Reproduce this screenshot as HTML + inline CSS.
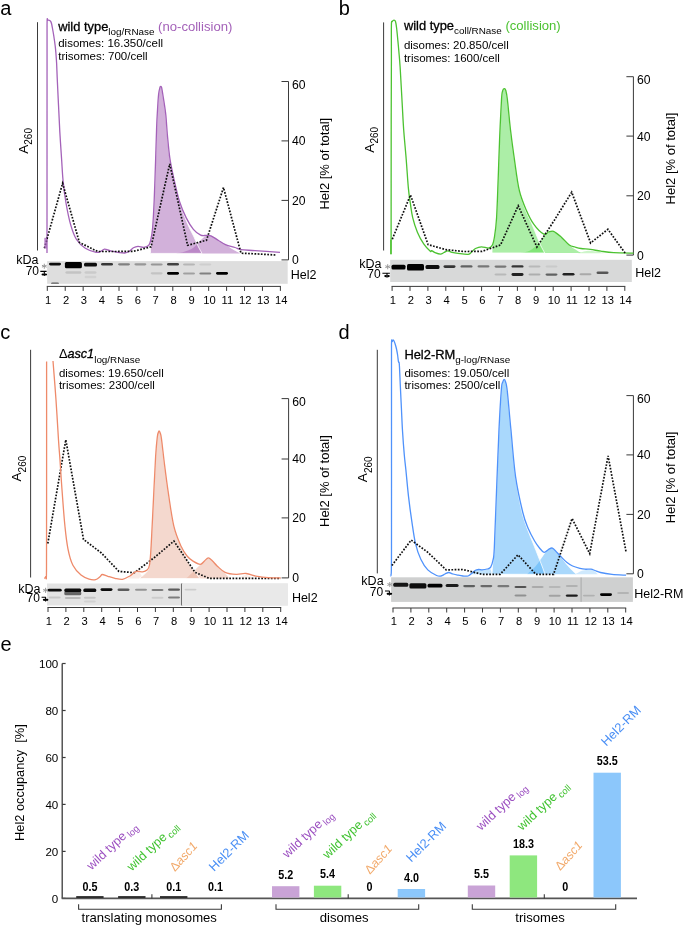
<!DOCTYPE html>
<html><head><meta charset="utf-8"><style>
html,body{margin:0;padding:0;background:#fff;overflow:hidden;}
svg{display:block;font-family:"Liberation Sans", sans-serif;}
</style></head><body>
<svg width="685" height="926" viewBox="0 0 685 926">
<defs><filter id="bl" filterUnits="userSpaceOnUse" x="0" y="0" width="685" height="926"><feGaussianBlur stdDeviation="0.6"/></filter><filter id="soft" filterUnits="userSpaceOnUse" x="0" y="0" width="685" height="926"><feGaussianBlur stdDeviation="0.4"/></filter></defs>
<rect width="685" height="926" fill="#fff"/>
<g filter="url(#soft)">
<text x="0.3" y="14.6" font-size="20" fill="#000">a</text>
<line x1="37.5" y1="22.2" x2="37.5" y2="250.5" stroke="#3a3a3a" stroke-width="1"/>
<text transform="translate(27.6,153.8) rotate(-90)" font-size="13.6" fill="#000">A<tspan font-size="10" dy="4.3">260</tspan></text>
<line x1="288.5" y1="81.5" x2="288.5" y2="259.9" stroke="#3a3a3a" stroke-width="1"/>
<line x1="281.5" y1="81.5" x2="288.5" y2="81.5" stroke="#3a3a3a" stroke-width="1"/>
<text x="292.1" y="88.7" font-size="12.2" fill="#000">60</text>
<line x1="281.5" y1="140.9" x2="288.5" y2="140.9" stroke="#3a3a3a" stroke-width="1"/>
<text x="292.1" y="145.3" font-size="12.2" fill="#000">40</text>
<line x1="281.5" y1="200.4" x2="288.5" y2="200.4" stroke="#3a3a3a" stroke-width="1"/>
<text x="292.1" y="204.8" font-size="12.2" fill="#000">20</text>
<line x1="281.5" y1="259.9" x2="288.5" y2="259.9" stroke="#3a3a3a" stroke-width="1"/>
<text x="292.1" y="264.3" font-size="12.2" fill="#000">0</text>
<text transform="translate(328.8,209.6) rotate(-90)" font-size="13" fill="#000">Hel2 [% of total]</text>
<path d="M176.00,253.40 C177.50,253.08 182.17,252.40 185.00,251.50 C187.83,250.60 190.50,249.75 193.00,248.00 C195.50,246.25 197.92,242.95 200.00,241.00 C202.08,239.05 203.68,237.17 205.50,236.30 C207.32,235.43 208.78,235.15 210.90,235.80 C213.02,236.45 215.77,238.73 218.20,240.20 C220.63,241.67 223.20,243.13 225.50,244.60 C227.80,246.07 229.58,247.53 232.00,249.00 C234.42,250.47 238.67,252.67 240.00,253.40 Z" fill="#a561b5" fill-opacity="0.50" stroke="none" stroke-width="0.00"/>
<path d="M150.50,253.40 C150.55,251.17 150.45,244.23 150.80,240.00 C151.15,235.77 152.03,234.67 152.60,228.00 C153.17,221.33 153.70,211.33 154.20,200.00 C154.70,188.67 155.20,172.00 155.60,160.00 C156.00,148.00 156.28,136.33 156.60,128.00 C156.92,119.67 157.17,115.60 157.50,110.00 C157.83,104.40 158.18,98.20 158.60,94.40 C159.02,90.60 159.63,88.52 160.00,87.20 C160.37,85.88 160.53,86.45 160.80,86.50 C161.07,86.55 161.27,86.18 161.60,87.50 C161.93,88.82 162.12,90.00 162.80,94.40 C163.48,98.80 164.93,107.13 165.70,113.90 C166.47,120.67 166.68,127.45 167.40,135.00 C168.12,142.55 168.83,151.53 170.00,159.20 C171.17,166.87 172.90,174.20 174.40,181.00 C175.90,187.80 177.40,194.33 179.00,200.00 C180.60,205.67 182.33,210.50 184.00,215.00 C185.67,219.50 187.33,223.33 189.00,227.00 C190.67,230.67 192.50,233.83 194.00,237.00 C195.50,240.17 196.67,243.27 198.00,246.00 C199.33,248.73 201.33,252.17 202.00,253.40 Z" fill="#a561b5" fill-opacity="0.50" stroke="#fff" stroke-width="0.80"/>
<path d="M47.00,253.00 C47.01,220.83 47.03,98.50 47.05,60.00 C47.07,21.50 46.98,28.62 47.10,22.00 C47.23,15.38 47.43,20.57 47.80,20.30 C48.17,20.03 48.85,20.25 49.30,20.40 C49.75,20.55 50.13,20.68 50.50,21.20 C50.87,21.72 51.17,22.28 51.50,23.50 C51.83,24.72 52.12,26.42 52.50,28.50 C52.88,30.58 53.35,33.08 53.80,36.00 C54.25,38.92 54.87,43.33 55.20,46.00 C55.53,48.67 55.57,49.17 55.80,52.00 C56.03,54.83 56.35,58.33 56.60,63.00 C56.85,67.67 56.98,73.00 57.30,80.00 C57.62,87.00 58.08,96.40 58.50,105.00 C58.92,113.60 59.28,122.57 59.80,131.60 C60.32,140.63 61.05,150.97 61.60,159.20 C62.15,167.43 62.37,173.70 63.10,181.00 C63.83,188.30 64.73,195.68 66.00,203.00 C67.27,210.32 68.95,218.82 70.70,224.90 C72.45,230.98 74.07,235.62 76.50,239.50 C78.93,243.38 82.02,246.07 85.30,248.20 C88.58,250.33 93.67,251.75 96.20,252.30 C98.73,252.85 99.12,252.02 100.50,251.50 C101.88,250.98 103.25,249.45 104.50,249.20 C105.75,248.95 106.83,249.67 108.00,250.00 C109.17,250.33 109.83,250.82 111.50,251.20 C113.17,251.58 115.80,252.00 118.00,252.30 C120.20,252.60 122.87,253.13 124.70,253.00 C126.53,252.87 127.55,252.37 129.00,251.50 C130.45,250.63 131.90,248.67 133.40,247.80 C134.90,246.93 136.27,246.38 138.00,246.30 C139.73,246.22 142.03,247.43 143.80,247.30 C145.57,247.17 147.43,246.72 148.60,245.50 C149.77,244.28 150.13,242.92 150.80,240.00 C151.47,237.08 152.03,234.67 152.60,228.00 C153.17,221.33 153.70,211.33 154.20,200.00 C154.70,188.67 155.20,172.00 155.60,160.00 C156.00,148.00 156.28,136.33 156.60,128.00 C156.92,119.67 157.17,115.60 157.50,110.00 C157.83,104.40 158.18,98.20 158.60,94.40 C159.02,90.60 159.63,88.52 160.00,87.20 C160.37,85.88 160.53,86.45 160.80,86.50 C161.07,86.55 161.27,86.18 161.60,87.50 C161.93,88.82 162.12,90.00 162.80,94.40 C163.48,98.80 164.93,107.13 165.70,113.90 C166.47,120.67 166.68,127.45 167.40,135.00 C168.12,142.55 168.83,151.53 170.00,159.20 C171.17,166.87 172.82,173.95 174.40,181.00 C175.98,188.05 177.55,195.40 179.50,201.50 C181.45,207.60 183.78,212.97 186.10,217.60 C188.42,222.23 190.97,226.38 193.40,229.30 C195.83,232.22 198.52,234.08 200.70,235.10 C202.88,236.12 204.80,235.28 206.50,235.40 C208.20,235.52 208.95,235.00 210.90,235.80 C212.85,236.60 215.77,238.73 218.20,240.20 C220.63,241.67 222.70,243.38 225.50,244.60 C228.30,245.82 232.42,246.67 235.00,247.50 C237.58,248.33 237.67,249.08 241.00,249.60 C244.33,250.12 248.50,250.15 255.00,250.60 C261.50,251.05 275.83,252.02 280.00,252.30" fill="none" stroke="#a462b9" stroke-width="1.3" stroke-linejoin="round"/>
<path d="M44.40,248.20 L62.60,183.30 L79.40,242.40 L97.70,251.50 L115.60,251.50 L133.50,251.30 L151.10,246.80 L169.70,163.90 L187.60,245.30 L206.50,240.20 L223.50,187.50 L241.00,253.20 L258.50,254.00 L275.50,255.00" fill="none" stroke="#111" stroke-width="1.7" stroke-dasharray="1.7,1.5"/>
<rect x="47.1" y="261.1" width="240.6" height="22.7" fill="#dedede"/>
<g filter="url(#bl)">
<rect x="49.0" y="262.8" width="12.0" height="2.6" rx="1.5" fill="#000" fill-opacity="0.95"/>
<rect x="64.9" y="262.0" width="17.0" height="6.3" rx="1.5" fill="#000" fill-opacity="1.00"/>
<rect x="84.0" y="262.8" width="13.0" height="3.6" rx="1.5" fill="#000" fill-opacity="0.95"/>
<rect x="101.0" y="263.1" width="12.0" height="2.4" rx="1.5" fill="#000" fill-opacity="0.75"/>
<rect x="118.0" y="263.2" width="12.0" height="2.2" rx="1.5" fill="#000" fill-opacity="0.42"/>
<rect x="134.4" y="263.2" width="12.0" height="2.2" rx="1.5" fill="#000" fill-opacity="0.32"/>
<rect x="150.7" y="263.4" width="12.0" height="2.2" rx="1.5" fill="#000" fill-opacity="0.32"/>
<rect x="167.0" y="263.1" width="12.0" height="2.4" rx="1.5" fill="#000" fill-opacity="0.70"/>
<rect x="183.0" y="263.5" width="12.0" height="2.0" rx="1.5" fill="#000" fill-opacity="0.18"/>
<rect x="199.3" y="263.5" width="12.0" height="2.0" rx="1.5" fill="#000" fill-opacity="0.07"/>
<rect x="51.0" y="282.6" width="8.0" height="1.2" rx="1.5" fill="#000" fill-opacity="0.60"/>
<rect x="65.4" y="271.2" width="16.0" height="2.6" rx="1.5" fill="#000" fill-opacity="0.12"/>
<rect x="84.5" y="271.2" width="12.0" height="2.5" rx="1.5" fill="#000" fill-opacity="0.09"/>
<rect x="84.5" y="275.8" width="12.0" height="2.5" rx="1.5" fill="#000" fill-opacity="0.06"/>
<rect x="150.7" y="272.2" width="12.0" height="2.2" rx="1.5" fill="#000" fill-opacity="0.12"/>
<rect x="167.0" y="271.9" width="12.0" height="2.8" rx="1.5" fill="#000" fill-opacity="1.00"/>
<rect x="183.0" y="272.5" width="12.0" height="2.0" rx="1.5" fill="#000" fill-opacity="0.28"/>
<rect x="199.3" y="272.4" width="12.0" height="2.2" rx="1.5" fill="#000" fill-opacity="0.42"/>
<rect x="216.0" y="271.9" width="12.0" height="2.8" rx="1.5" fill="#000" fill-opacity="1.00"/>
</g>
<text x="38.5" y="264.4" font-size="12.5" text-anchor="end" fill="#000">kDa</text>
<text x="39.0" y="275.4" font-size="12" text-anchor="end" fill="#000">70</text>
<g stroke="#999" stroke-width="1" stroke-linecap="round"><path d="M44.3,264.1 v4.3 M42.3,265.4 l4,1.6 M46.3,265.4 l-4,1.6"/></g>
<path d="M40.3,271.4 H46.6 M44.3,271.4 V276.1" stroke="#000" stroke-width="1.1"/>
<ellipse cx="42.9" cy="274.5" rx="1.4" ry="1.1" fill="#000"/><ellipse cx="45.7" cy="274.5" rx="1.4" ry="1.1" fill="#000"/>
<text x="290.8" y="278.7" font-size="12.5" fill="#000">Hel2</text>
<line x1="46.8" y1="286.4" x2="280.9" y2="286.4" stroke="#3a3a3a" stroke-width="1"/>
<line x1="47.30" y1="286.4" x2="47.30" y2="290.9" stroke="#3a3a3a" stroke-width="1"/>
<text x="48.10" y="304.1" font-size="11.2" text-anchor="middle" fill="#000">1</text>
<line x1="65.23" y1="286.4" x2="65.23" y2="290.9" stroke="#3a3a3a" stroke-width="1"/>
<text x="66.03" y="304.1" font-size="11.2" text-anchor="middle" fill="#000">2</text>
<line x1="83.16" y1="286.4" x2="83.16" y2="290.9" stroke="#3a3a3a" stroke-width="1"/>
<text x="83.96" y="304.1" font-size="11.2" text-anchor="middle" fill="#000">3</text>
<line x1="101.09" y1="286.4" x2="101.09" y2="290.9" stroke="#3a3a3a" stroke-width="1"/>
<text x="101.89" y="304.1" font-size="11.2" text-anchor="middle" fill="#000">4</text>
<line x1="119.02" y1="286.4" x2="119.02" y2="290.9" stroke="#3a3a3a" stroke-width="1"/>
<text x="119.82" y="304.1" font-size="11.2" text-anchor="middle" fill="#000">5</text>
<line x1="136.95" y1="286.4" x2="136.95" y2="290.9" stroke="#3a3a3a" stroke-width="1"/>
<text x="137.75" y="304.1" font-size="11.2" text-anchor="middle" fill="#000">6</text>
<line x1="154.88" y1="286.4" x2="154.88" y2="290.9" stroke="#3a3a3a" stroke-width="1"/>
<text x="155.68" y="304.1" font-size="11.2" text-anchor="middle" fill="#000">7</text>
<line x1="172.81" y1="286.4" x2="172.81" y2="290.9" stroke="#3a3a3a" stroke-width="1"/>
<text x="173.61" y="304.1" font-size="11.2" text-anchor="middle" fill="#000">8</text>
<line x1="190.74" y1="286.4" x2="190.74" y2="290.9" stroke="#3a3a3a" stroke-width="1"/>
<text x="191.54" y="304.1" font-size="11.2" text-anchor="middle" fill="#000">9</text>
<line x1="208.67" y1="286.4" x2="208.67" y2="290.9" stroke="#3a3a3a" stroke-width="1"/>
<text x="209.47" y="304.1" font-size="11.2" text-anchor="middle" fill="#000">10</text>
<line x1="226.60" y1="286.4" x2="226.60" y2="290.9" stroke="#3a3a3a" stroke-width="1"/>
<text x="227.40" y="304.1" font-size="11.2" text-anchor="middle" fill="#000">11</text>
<line x1="244.53" y1="286.4" x2="244.53" y2="290.9" stroke="#3a3a3a" stroke-width="1"/>
<text x="245.33" y="304.1" font-size="11.2" text-anchor="middle" fill="#000">12</text>
<line x1="262.46" y1="286.4" x2="262.46" y2="290.9" stroke="#3a3a3a" stroke-width="1"/>
<text x="263.26" y="304.1" font-size="11.2" text-anchor="middle" fill="#000">13</text>
<line x1="280.39" y1="286.4" x2="280.39" y2="290.9" stroke="#3a3a3a" stroke-width="1"/>
<text x="281.19" y="304.1" font-size="11.2" text-anchor="middle" fill="#000">14</text>
<text x="58.2" y="30.6" font-size="12.9" fill="#000"><tspan stroke="#000" stroke-width="0.3">wild type</tspan><tspan font-size="9.9" dy="4.0">log/RNase</tspan><tspan dy="-4.0" font-size="13.1" fill="#a462b9"> (no-collision)</tspan></text>
<text x="58.2" y="47.2" font-size="11.5" fill="#000">disomes: 16.350/cell</text>
<text x="58.2" y="59.8" font-size="11.5" fill="#000">trisomes: 700/cell</text>
<rect x="44.3" y="237.8" width="2.6" height="10.6" fill="#a462b9" fill-opacity="0.75"/>
<text x="338.8" y="14.8" font-size="20" fill="#000">b</text>
<line x1="383.6" y1="22.4" x2="383.6" y2="250.5" stroke="#3a3a3a" stroke-width="1"/>
<text transform="translate(373.6,152.7) rotate(-90)" font-size="13.6" fill="#000">A<tspan font-size="10" dy="4.3">260</tspan></text>
<line x1="633.4" y1="76.7" x2="633.4" y2="255.1" stroke="#3a3a3a" stroke-width="1"/>
<line x1="626.4" y1="76.7" x2="633.4" y2="76.7" stroke="#3a3a3a" stroke-width="1"/>
<text x="637.0" y="83.9" font-size="12.2" fill="#000">60</text>
<line x1="626.4" y1="136.1" x2="633.4" y2="136.1" stroke="#3a3a3a" stroke-width="1"/>
<text x="637.0" y="140.5" font-size="12.2" fill="#000">40</text>
<line x1="626.4" y1="195.8" x2="633.4" y2="195.8" stroke="#3a3a3a" stroke-width="1"/>
<text x="637.0" y="200.2" font-size="12.2" fill="#000">20</text>
<line x1="626.4" y1="255.1" x2="633.4" y2="255.1" stroke="#3a3a3a" stroke-width="1"/>
<text x="637.0" y="259.5" font-size="12.2" fill="#000">0</text>
<text transform="translate(675.1,204.4) rotate(-90)" font-size="13" fill="#000">Hel2 [% of total]</text>
<path d="M578.00,253.20 C579.67,252.80 584.67,251.03 588.00,250.80 C591.33,250.57 595.33,251.40 598.00,251.80 C600.67,252.20 603.00,252.97 604.00,253.20 Z" fill="#59dd4d" fill-opacity="0.30" stroke="none" stroke-width="0.00"/>
<path d="M521.00,253.00 C522.50,252.58 527.17,252.00 530.00,250.50 C532.83,249.00 535.70,246.42 538.00,244.00 C540.30,241.58 542.05,237.92 543.80,236.00 C545.55,234.08 546.87,233.23 548.50,232.50 C550.13,231.77 551.45,230.77 553.60,231.60 C555.75,232.43 559.17,235.60 561.40,237.50 C563.63,239.40 565.07,241.25 567.00,243.00 C568.93,244.75 570.67,246.33 573.00,248.00 C575.33,249.67 579.67,252.17 581.00,253.00 Z" fill="#59dd4d" fill-opacity="0.50" stroke="none" stroke-width="0.00"/>
<path d="M492.00,253.00 C492.07,251.67 491.97,247.83 492.40,245.00 C492.83,242.17 493.90,240.58 494.60,236.00 C495.30,231.42 496.00,227.13 496.60,217.50 C497.20,207.87 497.70,191.30 498.20,178.20 C498.70,165.10 499.05,152.00 499.60,138.90 C500.15,125.80 501.00,107.58 501.50,99.60 C502.00,91.62 502.15,92.83 502.60,91.00 C503.05,89.17 503.67,88.68 504.20,88.60 C504.73,88.52 505.27,88.67 505.80,90.50 C506.33,92.33 506.63,93.17 507.40,99.60 C508.17,106.03 509.25,119.27 510.40,129.10 C511.55,138.93 512.83,148.45 514.30,158.60 C515.77,168.75 517.33,181.43 519.20,190.00 C521.07,198.57 523.53,204.67 525.50,210.00 C527.47,215.33 529.25,218.00 531.00,222.00 C532.75,226.00 534.42,230.17 536.00,234.00 C537.58,237.83 539.05,241.83 540.50,245.00 C541.95,248.17 544.00,251.67 544.70,253.00 Z" fill="#59dd4d" fill-opacity="0.50" stroke="#fff" stroke-width="0.80"/>
<path d="M391.10,254.30 C391.12,231.92 391.15,152.38 391.20,120.00 C391.25,87.62 391.37,75.77 391.40,60.00 C391.43,44.23 391.25,31.82 391.40,25.40 C391.55,18.98 391.87,22.37 392.30,21.50 C392.73,20.63 393.47,20.20 394.00,20.20 C394.53,20.20 395.07,20.20 395.50,21.50 C395.93,22.80 396.20,24.77 396.60,28.00 C397.00,31.23 397.50,36.73 397.90,40.90 C398.30,45.07 398.63,48.68 399.00,53.00 C399.37,57.32 399.73,61.30 400.10,66.80 C400.47,72.30 400.83,79.52 401.20,86.00 C401.57,92.48 401.88,98.37 402.30,105.70 C402.72,113.03 403.05,121.08 403.70,130.00 C404.35,138.92 405.42,149.47 406.20,159.20 C406.98,168.93 407.72,181.10 408.40,188.40 C409.08,195.70 409.58,198.13 410.30,203.00 C411.02,207.87 411.52,212.73 412.70,217.60 C413.88,222.47 415.57,227.82 417.40,232.20 C419.23,236.58 421.55,240.73 423.70,243.90 C425.85,247.07 428.97,250.08 430.30,251.20 C431.63,252.32 430.92,250.37 431.70,250.60 C432.48,250.83 433.53,252.02 435.00,252.60 C436.47,253.18 439.00,254.12 440.50,254.10 C442.00,254.08 442.78,253.03 444.00,252.50 C445.22,251.97 446.47,250.93 447.80,250.90 C449.13,250.87 450.30,251.88 452.00,252.30 C453.70,252.72 455.30,253.05 458.00,253.40 C460.70,253.75 465.87,254.72 468.20,254.40 C470.53,254.08 470.78,252.48 472.00,251.50 C473.22,250.52 473.93,249.28 475.50,248.50 C477.07,247.72 479.18,246.88 481.40,246.80 C483.62,246.72 486.97,248.30 488.80,248.00 C490.63,247.70 491.43,247.00 492.40,245.00 C493.37,243.00 493.90,240.58 494.60,236.00 C495.30,231.42 496.00,227.13 496.60,217.50 C497.20,207.87 497.70,191.30 498.20,178.20 C498.70,165.10 499.05,152.00 499.60,138.90 C500.15,125.80 501.00,107.58 501.50,99.60 C502.00,91.62 502.15,92.83 502.60,91.00 C503.05,89.17 503.67,88.68 504.20,88.60 C504.73,88.52 505.27,88.67 505.80,90.50 C506.33,92.33 506.63,93.17 507.40,99.60 C508.17,106.03 509.25,119.27 510.40,129.10 C511.55,138.93 512.83,148.45 514.30,158.60 C515.77,168.75 517.23,181.48 519.20,190.00 C521.17,198.52 523.65,203.97 526.10,209.70 C528.55,215.43 530.95,220.32 533.90,224.40 C536.85,228.48 541.37,232.93 543.80,234.20 C546.23,235.47 546.87,232.48 548.50,232.00 C550.13,231.52 551.45,230.43 553.60,231.30 C555.75,232.17 558.78,234.92 561.40,237.20 C564.02,239.48 567.03,243.37 569.30,245.00 C571.57,246.63 573.05,246.42 575.00,247.00 C576.95,247.58 578.43,248.10 581.00,248.50 C583.57,248.90 587.08,248.95 590.40,249.40 C593.72,249.85 597.02,250.65 600.90,251.20 C604.78,251.75 608.25,252.37 613.70,252.70 C619.15,253.03 630.28,253.12 633.60,253.20" fill="none" stroke="#4cc230" stroke-width="1.3" stroke-linejoin="round"/>
<path d="M392.30,239.20 L410.50,195.00 L428.10,244.60 L446.00,249.70 L464.00,251.50 L482.00,251.40 L500.50,245.00 L518.20,205.70 L536.90,247.00 L554.50,220.00 L571.70,192.20 L590.60,243.00 L607.90,229.30 L625.40,253.50" fill="none" stroke="#111" stroke-width="1.7" stroke-dasharray="1.7,1.5"/>
<rect x="390.2" y="259.8" width="241.6" height="22.2" fill="#d8d9d9"/>
<g filter="url(#bl)">
<rect x="391.5" y="264.7" width="14.0" height="4.8" rx="1.5" fill="#000" fill-opacity="1.00"/>
<rect x="407.0" y="264.1" width="17.0" height="6.3" rx="1.5" fill="#000" fill-opacity="1.00"/>
<rect x="425.5" y="265.1" width="14.0" height="3.8" rx="1.5" fill="#000" fill-opacity="0.95"/>
<rect x="443.5" y="265.3" width="12.0" height="2.6" rx="1.5" fill="#000" fill-opacity="0.75"/>
<rect x="460.5" y="265.2" width="12.0" height="2.4" rx="1.5" fill="#000" fill-opacity="0.55"/>
<rect x="477.5" y="265.3" width="12.0" height="2.2" rx="1.5" fill="#000" fill-opacity="0.45"/>
<rect x="494.5" y="265.5" width="12.0" height="2.2" rx="1.5" fill="#000" fill-opacity="0.45"/>
<rect x="511.5" y="265.2" width="12.0" height="2.4" rx="1.5" fill="#000" fill-opacity="0.75"/>
<rect x="528.5" y="265.4" width="12.0" height="2.0" rx="1.5" fill="#000" fill-opacity="0.15"/>
<rect x="545.5" y="265.4" width="12.0" height="2.0" rx="1.5" fill="#000" fill-opacity="0.07"/>
<rect x="494.5" y="273.4" width="12.0" height="2.0" rx="1.5" fill="#000" fill-opacity="0.15"/>
<rect x="511.5" y="273.1" width="12.0" height="2.8" rx="1.5" fill="#000" fill-opacity="0.85"/>
<rect x="528.5" y="273.5" width="12.0" height="2.0" rx="1.5" fill="#000" fill-opacity="0.20"/>
<rect x="545.5" y="273.4" width="12.0" height="2.3" rx="1.5" fill="#000" fill-opacity="0.55"/>
<rect x="562.5" y="273.0" width="12.0" height="2.6" rx="1.5" fill="#000" fill-opacity="0.85"/>
<rect x="579.5" y="273.3" width="12.0" height="2.0" rx="1.5" fill="#000" fill-opacity="0.22"/>
<rect x="596.5" y="271.6" width="12.0" height="2.5" rx="1.5" fill="#000" fill-opacity="0.60"/>
</g>
<text x="381.5" y="268.0" font-size="12.5" text-anchor="end" fill="#000">kDa</text>
<text x="380.7" y="277.7" font-size="12" text-anchor="end" fill="#000">70</text>
<g stroke="#999" stroke-width="1" stroke-linecap="round"><path d="M387.7,264.6 v4.3 M385.7,265.9 l4,1.6 M389.7,265.9 l-4,1.6"/></g>
<path d="M382.4,273.3 H389.9 M387.0,273.3 V277.7" stroke="#000" stroke-width="1.1"/>
<ellipse cx="385.6" cy="276.1" rx="1.4" ry="1.1" fill="#000"/><ellipse cx="388.4" cy="276.1" rx="1.4" ry="1.1" fill="#000"/>
<text x="635.2" y="277.3" font-size="12.5" fill="#000">Hel2</text>
<line x1="391.6" y1="286.4" x2="625.3" y2="286.4" stroke="#3a3a3a" stroke-width="1"/>
<line x1="392.10" y1="286.4" x2="392.10" y2="290.9" stroke="#3a3a3a" stroke-width="1"/>
<text x="392.90" y="304.3" font-size="11.2" text-anchor="middle" fill="#000">1</text>
<line x1="410.00" y1="286.4" x2="410.00" y2="290.9" stroke="#3a3a3a" stroke-width="1"/>
<text x="410.80" y="304.3" font-size="11.2" text-anchor="middle" fill="#000">2</text>
<line x1="427.90" y1="286.4" x2="427.90" y2="290.9" stroke="#3a3a3a" stroke-width="1"/>
<text x="428.70" y="304.3" font-size="11.2" text-anchor="middle" fill="#000">3</text>
<line x1="445.80" y1="286.4" x2="445.80" y2="290.9" stroke="#3a3a3a" stroke-width="1"/>
<text x="446.60" y="304.3" font-size="11.2" text-anchor="middle" fill="#000">4</text>
<line x1="463.70" y1="286.4" x2="463.70" y2="290.9" stroke="#3a3a3a" stroke-width="1"/>
<text x="464.50" y="304.3" font-size="11.2" text-anchor="middle" fill="#000">5</text>
<line x1="481.60" y1="286.4" x2="481.60" y2="290.9" stroke="#3a3a3a" stroke-width="1"/>
<text x="482.40" y="304.3" font-size="11.2" text-anchor="middle" fill="#000">6</text>
<line x1="499.50" y1="286.4" x2="499.50" y2="290.9" stroke="#3a3a3a" stroke-width="1"/>
<text x="500.30" y="304.3" font-size="11.2" text-anchor="middle" fill="#000">7</text>
<line x1="517.40" y1="286.4" x2="517.40" y2="290.9" stroke="#3a3a3a" stroke-width="1"/>
<text x="518.20" y="304.3" font-size="11.2" text-anchor="middle" fill="#000">8</text>
<line x1="535.30" y1="286.4" x2="535.30" y2="290.9" stroke="#3a3a3a" stroke-width="1"/>
<text x="536.10" y="304.3" font-size="11.2" text-anchor="middle" fill="#000">9</text>
<line x1="553.20" y1="286.4" x2="553.20" y2="290.9" stroke="#3a3a3a" stroke-width="1"/>
<text x="554.00" y="304.3" font-size="11.2" text-anchor="middle" fill="#000">10</text>
<line x1="571.10" y1="286.4" x2="571.10" y2="290.9" stroke="#3a3a3a" stroke-width="1"/>
<text x="571.90" y="304.3" font-size="11.2" text-anchor="middle" fill="#000">11</text>
<line x1="589.00" y1="286.4" x2="589.00" y2="290.9" stroke="#3a3a3a" stroke-width="1"/>
<text x="589.80" y="304.3" font-size="11.2" text-anchor="middle" fill="#000">12</text>
<line x1="606.90" y1="286.4" x2="606.90" y2="290.9" stroke="#3a3a3a" stroke-width="1"/>
<text x="607.70" y="304.3" font-size="11.2" text-anchor="middle" fill="#000">13</text>
<line x1="624.80" y1="286.4" x2="624.80" y2="290.9" stroke="#3a3a3a" stroke-width="1"/>
<text x="625.60" y="304.3" font-size="11.2" text-anchor="middle" fill="#000">14</text>
<text x="403.9" y="30.3" font-size="12.9" fill="#000"><tspan stroke="#000" stroke-width="0.3">wild type</tspan><tspan font-size="9.9" dy="4.0">coll/RNase</tspan><tspan dy="-4.0" font-size="13.1" fill="#4cc230"> (collision)</tspan></text>
<text x="403.9" y="48.8" font-size="11.5" fill="#000">disomes: 20.850/cell</text>
<text x="403.9" y="62.0" font-size="11.5" fill="#000">trisomes: 1600/cell</text>
<rect x="390.0" y="239.7" width="1.6" height="14.5" fill="#4cc230" fill-opacity="0.8"/>
<text x="0.3" y="338.6" font-size="20" fill="#000">c</text>
<line x1="30.6" y1="349.8" x2="30.6" y2="577.5" stroke="#3a3a3a" stroke-width="1"/>
<text transform="translate(21.2,481.5) rotate(-90)" font-size="13.6" fill="#000">A<tspan font-size="10" dy="4.3">260</tspan></text>
<line x1="288.6" y1="398.6" x2="288.6" y2="577.9" stroke="#3a3a3a" stroke-width="1"/>
<line x1="281.6" y1="398.6" x2="288.6" y2="398.6" stroke="#3a3a3a" stroke-width="1"/>
<text x="292.2" y="405.8" font-size="12.2" fill="#000">60</text>
<line x1="281.6" y1="459.0" x2="288.6" y2="459.0" stroke="#3a3a3a" stroke-width="1"/>
<text x="292.2" y="463.4" font-size="12.2" fill="#000">40</text>
<line x1="281.6" y1="517.9" x2="288.6" y2="517.9" stroke="#3a3a3a" stroke-width="1"/>
<text x="292.2" y="522.3" font-size="12.2" fill="#000">20</text>
<line x1="281.6" y1="577.9" x2="288.6" y2="577.9" stroke="#3a3a3a" stroke-width="1"/>
<text x="292.2" y="582.3" font-size="12.2" fill="#000">0</text>
<text transform="translate(328.8,527.0) rotate(-90)" font-size="13" fill="#000">Hel2 [% of total]</text>
<path d="M238.00,578.60 C239.33,578.00 243.33,575.00 246.00,575.00 C248.67,575.00 252.67,578.00 254.00,578.60 Z" fill="#e9b19d" fill-opacity="0.22" stroke="none" stroke-width="0.00"/>
<path d="M128.00,578.60 C128.67,578.00 130.62,576.10 132.00,575.00 C133.38,573.90 134.97,572.33 136.30,572.00 C137.63,571.67 138.88,571.90 140.00,573.00 C141.12,574.10 142.50,577.67 143.00,578.60 Z" fill="#e9b19d" fill-opacity="0.25" stroke="none" stroke-width="0.00"/>
<path d="M186.00,578.60 C187.17,577.50 190.67,574.27 193.00,572.00 C195.33,569.73 198.08,566.75 200.00,565.00 C201.92,563.25 203.12,562.60 204.50,561.50 C205.88,560.40 206.97,558.40 208.30,558.40 C209.63,558.40 211.03,560.18 212.50,561.50 C213.97,562.82 215.35,564.63 217.10,566.30 C218.85,567.97 220.85,569.45 223.00,571.50 C225.15,573.55 228.83,577.42 230.00,578.60 Z" fill="#e9b19d" fill-opacity="0.50" stroke="none" stroke-width="0.00"/>
<path d="M139.00,578.60 C139.83,577.92 142.42,576.18 144.00,574.50 C145.58,572.82 147.40,572.25 148.50,568.50 C149.60,564.75 149.80,562.98 150.60,552.00 C151.40,541.02 152.47,518.48 153.30,502.60 C154.13,486.72 154.93,467.63 155.60,456.70 C156.27,445.77 156.82,441.12 157.30,437.00 C157.78,432.88 158.18,433.00 158.50,432.00 C158.82,431.00 158.92,430.83 159.20,431.00 C159.48,431.17 159.83,431.78 160.20,433.00 C160.57,434.22 160.65,432.82 161.40,438.30 C162.15,443.78 163.53,456.72 164.70,465.90 C165.87,475.08 167.10,484.38 168.40,493.40 C169.70,502.42 171.07,512.90 172.50,520.00 C173.93,527.10 175.25,530.83 177.00,536.00 C178.75,541.17 181.00,546.50 183.00,551.00 C185.00,555.50 187.00,559.50 189.00,563.00 C191.00,566.50 193.17,569.40 195.00,572.00 C196.83,574.60 199.17,577.50 200.00,578.60 Z" fill="#e9b19d" fill-opacity="0.50" stroke="#fff" stroke-width="0.80"/>
<path d="M44.30,578.50 C44.55,578.17 45.43,577.92 45.80,576.50 C46.17,575.08 46.37,586.08 46.50,570.00 C46.63,553.92 46.58,514.75 46.60,480.00 C46.62,445.25 46.60,381.25 46.60,361.50" fill="none" stroke="#ee8a6a" stroke-width="1.3" stroke-linejoin="round"/>
<path d="M47.80,543.50 L65.80,439.80 L83.50,539.40 L101.40,553.00 L118.90,571.40 L134.40,572.70 L155.00,557.00 L173.90,541.10 L195.00,572.30 L209.10,578.30 L280.60,578.30" fill="none" stroke="#111" stroke-width="1.7" stroke-dasharray="1.7,1.5"/>
<rect x="47.0" y="583.5" width="240.8" height="22.0" fill="#e3e3e3"/>
<rect x="181.2" y="583.5" width="1.2" height="22.0" fill="#333" opacity="0.80"/>
<rect x="182.0" y="583.5" width="105.8" height="22.0" fill="#e9e9e9"/>
<g filter="url(#bl)">
<rect x="47.7" y="588.8" width="14.0" height="2.8" rx="1.5" fill="#000" fill-opacity="0.95"/>
<rect x="64.3" y="588.4" width="17.0" height="3.6" rx="1.5" fill="#000" fill-opacity="0.95"/>
<rect x="64.3" y="591.2" width="17.0" height="4.0" rx="1.5" fill="#000" fill-opacity="0.55"/>
<rect x="83.3" y="588.5" width="13.0" height="3.4" rx="1.5" fill="#000" fill-opacity="0.95"/>
<rect x="100.5" y="588.3" width="12.0" height="2.6" rx="1.5" fill="#000" fill-opacity="0.95"/>
<rect x="117.5" y="588.6" width="12.0" height="2.4" rx="1.5" fill="#000" fill-opacity="0.60"/>
<rect x="135.0" y="588.8" width="12.0" height="2.0" rx="1.5" fill="#000" fill-opacity="0.35"/>
<rect x="151.5" y="588.9" width="12.0" height="2.2" rx="1.5" fill="#000" fill-opacity="0.45"/>
<rect x="168.0" y="588.4" width="12.0" height="2.4" rx="1.5" fill="#000" fill-opacity="0.60"/>
<rect x="184.5" y="588.7" width="12.0" height="1.8" rx="1.5" fill="#000" fill-opacity="0.12"/>
<rect x="48.7" y="596.5" width="12.0" height="2.0" rx="1.5" fill="#000" fill-opacity="0.13"/>
<rect x="64.8" y="596.9" width="16.0" height="2.2" rx="1.5" fill="#000" fill-opacity="0.18"/>
<rect x="83.8" y="596.8" width="12.0" height="2.0" rx="1.5" fill="#000" fill-opacity="0.13"/>
<rect x="83.8" y="600.5" width="12.0" height="2.0" rx="1.5" fill="#000" fill-opacity="0.08"/>
<rect x="151.5" y="596.8" width="12.0" height="2.0" rx="1.5" fill="#000" fill-opacity="0.10"/>
<rect x="168.0" y="596.4" width="12.0" height="2.2" rx="1.5" fill="#000" fill-opacity="0.45"/>
</g>
<text x="40.5" y="592.6" font-size="12.5" text-anchor="end" fill="#000">kDa</text>
<text x="39.9" y="601.7" font-size="12" text-anchor="end" fill="#000">70</text>
<g stroke="#999" stroke-width="1" stroke-linecap="round"><path d="M45.6,588.2 v4.3 M43.6,589.5 l4,1.6 M47.6,589.5 l-4,1.6"/></g>
<path d="M41.6,597.2 H45.8 M45.6,597.2 V601.4" stroke="#000" stroke-width="1.1"/>
<ellipse cx="44.2" cy="599.8" rx="1.4" ry="1.1" fill="#000"/><ellipse cx="47.0" cy="599.8" rx="1.4" ry="1.1" fill="#000"/>
<text x="291.9" y="601.8" font-size="12.5" fill="#000">Hel2</text>
<line x1="47.5" y1="607.5" x2="281.2" y2="607.5" stroke="#3a3a3a" stroke-width="1"/>
<line x1="48.00" y1="607.5" x2="48.00" y2="612.0" stroke="#3a3a3a" stroke-width="1"/>
<text x="48.80" y="625.4" font-size="11.2" text-anchor="middle" fill="#000">1</text>
<line x1="65.90" y1="607.5" x2="65.90" y2="612.0" stroke="#3a3a3a" stroke-width="1"/>
<text x="66.70" y="625.4" font-size="11.2" text-anchor="middle" fill="#000">2</text>
<line x1="83.80" y1="607.5" x2="83.80" y2="612.0" stroke="#3a3a3a" stroke-width="1"/>
<text x="84.60" y="625.4" font-size="11.2" text-anchor="middle" fill="#000">3</text>
<line x1="101.70" y1="607.5" x2="101.70" y2="612.0" stroke="#3a3a3a" stroke-width="1"/>
<text x="102.50" y="625.4" font-size="11.2" text-anchor="middle" fill="#000">4</text>
<line x1="119.60" y1="607.5" x2="119.60" y2="612.0" stroke="#3a3a3a" stroke-width="1"/>
<text x="120.40" y="625.4" font-size="11.2" text-anchor="middle" fill="#000">5</text>
<line x1="137.50" y1="607.5" x2="137.50" y2="612.0" stroke="#3a3a3a" stroke-width="1"/>
<text x="138.30" y="625.4" font-size="11.2" text-anchor="middle" fill="#000">6</text>
<line x1="155.40" y1="607.5" x2="155.40" y2="612.0" stroke="#3a3a3a" stroke-width="1"/>
<text x="156.20" y="625.4" font-size="11.2" text-anchor="middle" fill="#000">7</text>
<line x1="173.30" y1="607.5" x2="173.30" y2="612.0" stroke="#3a3a3a" stroke-width="1"/>
<text x="174.10" y="625.4" font-size="11.2" text-anchor="middle" fill="#000">8</text>
<line x1="191.20" y1="607.5" x2="191.20" y2="612.0" stroke="#3a3a3a" stroke-width="1"/>
<text x="192.00" y="625.4" font-size="11.2" text-anchor="middle" fill="#000">9</text>
<line x1="209.10" y1="607.5" x2="209.10" y2="612.0" stroke="#3a3a3a" stroke-width="1"/>
<text x="209.90" y="625.4" font-size="11.2" text-anchor="middle" fill="#000">10</text>
<line x1="227.00" y1="607.5" x2="227.00" y2="612.0" stroke="#3a3a3a" stroke-width="1"/>
<text x="227.80" y="625.4" font-size="11.2" text-anchor="middle" fill="#000">11</text>
<line x1="244.90" y1="607.5" x2="244.90" y2="612.0" stroke="#3a3a3a" stroke-width="1"/>
<text x="245.70" y="625.4" font-size="11.2" text-anchor="middle" fill="#000">12</text>
<line x1="262.80" y1="607.5" x2="262.80" y2="612.0" stroke="#3a3a3a" stroke-width="1"/>
<text x="263.60" y="625.4" font-size="11.2" text-anchor="middle" fill="#000">13</text>
<line x1="280.70" y1="607.5" x2="280.70" y2="612.0" stroke="#3a3a3a" stroke-width="1"/>
<text x="281.50" y="625.4" font-size="11.2" text-anchor="middle" fill="#000">14</text>
<text x="58.9" y="358.4" font-size="12.7" fill="#000">&#916;<tspan font-style="italic" stroke="#000" stroke-width="0.3">asc1</tspan><tspan font-size="9.9" dy="4.4">log/RNase</tspan></text>
<text x="58.9" y="376.8" font-size="11.5" fill="#000">disomes: 19.650/cell</text>
<text x="58.9" y="389.4" font-size="11.5" fill="#000">trisomes: 2300/cell</text>
<path d="M53.00,361.00 C53.50,367.50 55.08,386.83 56.00,400.00 C56.92,413.17 57.83,430.00 58.50,440.00 C59.17,450.00 59.48,452.62 60.00,460.00 C60.52,467.38 60.80,473.50 61.60,484.30 C62.40,495.10 63.73,514.00 64.80,524.80 C65.87,535.60 66.65,542.35 68.00,549.10 C69.35,555.85 70.73,560.97 72.90,565.30 C75.07,569.63 78.30,572.80 81.00,575.10 C83.70,577.40 86.67,578.35 89.10,579.10 C91.53,579.85 93.78,580.00 95.60,579.60 C97.42,579.20 98.88,577.55 100.00,576.70 C101.12,575.85 101.00,574.57 102.30,574.50 C103.60,574.43 105.68,575.67 107.80,576.30 C109.92,576.93 112.55,577.80 115.00,578.30 C117.45,578.80 120.02,579.68 122.50,579.30 C124.98,578.92 127.60,577.32 129.90,576.00 C132.20,574.68 134.17,572.08 136.30,571.40 C138.43,570.72 140.92,572.13 142.70,571.90 C144.48,571.67 145.87,571.15 147.00,570.00 C148.13,568.85 148.83,568.60 149.50,565.00 C150.17,561.40 150.37,558.80 151.00,548.40 C151.63,538.00 152.53,517.88 153.30,502.60 C154.07,487.32 154.93,467.63 155.60,456.70 C156.27,445.77 156.82,441.12 157.30,437.00 C157.78,432.88 158.18,433.00 158.50,432.00 C158.82,431.00 158.92,430.83 159.20,431.00 C159.48,431.17 159.83,431.78 160.20,433.00 C160.57,434.22 160.65,432.82 161.40,438.30 C162.15,443.78 163.53,456.72 164.70,465.90 C165.87,475.08 166.87,483.32 168.40,493.40 C169.93,503.48 171.77,517.53 173.90,526.40 C176.03,535.27 179.02,541.67 181.20,546.60 C183.38,551.53 185.03,553.58 187.00,556.00 C188.97,558.42 190.78,559.72 193.00,561.10 C195.22,562.48 198.38,564.32 200.30,564.30 C202.22,564.28 203.17,562.07 204.50,561.00 C205.83,559.93 206.97,557.90 208.30,557.90 C209.63,557.90 211.03,559.67 212.50,561.00 C213.97,562.33 215.00,564.02 217.10,565.90 C219.20,567.78 221.88,570.88 225.10,572.30 C228.32,573.72 232.92,574.20 236.40,574.40 C239.88,574.60 242.52,573.17 246.00,573.50 C249.48,573.83 253.55,575.72 257.30,576.40 C261.05,577.08 264.62,577.33 268.50,577.60 C272.38,577.87 278.58,577.93 280.60,578.00" fill="none" stroke="#ee8a6a" stroke-width="1.3"/>
<text x="338.6" y="338.7" font-size="20" fill="#000">d</text>
<line x1="377.3" y1="349.8" x2="377.3" y2="573.4" stroke="#3a3a3a" stroke-width="1"/>
<text transform="translate(367.2,482.2) rotate(-90)" font-size="13.6" fill="#000">A<tspan font-size="10" dy="4.3">260</tspan></text>
<line x1="633.4" y1="395.6" x2="633.4" y2="573.8" stroke="#3a3a3a" stroke-width="1"/>
<line x1="626.4" y1="395.6" x2="633.4" y2="395.6" stroke="#3a3a3a" stroke-width="1"/>
<text x="637.0" y="402.8" font-size="12.2" fill="#000">60</text>
<line x1="626.4" y1="454.9" x2="633.4" y2="454.9" stroke="#3a3a3a" stroke-width="1"/>
<text x="637.0" y="459.3" font-size="12.2" fill="#000">40</text>
<line x1="626.4" y1="514.4" x2="633.4" y2="514.4" stroke="#3a3a3a" stroke-width="1"/>
<text x="637.0" y="518.8" font-size="12.2" fill="#000">20</text>
<line x1="626.4" y1="573.8" x2="633.4" y2="573.8" stroke="#3a3a3a" stroke-width="1"/>
<text x="637.0" y="578.2" font-size="12.2" fill="#000">0</text>
<text transform="translate(675.1,523.3) rotate(-90)" font-size="13" fill="#000">Hel2 [% of total]</text>
<path d="M575.00,574.30 C576.33,573.67 580.17,571.22 583.00,570.50 C585.83,569.78 589.50,569.37 592.00,570.00 C594.50,570.63 597.00,573.58 598.00,574.30 Z" fill="#51b1f9" fill-opacity="0.28" stroke="none" stroke-width="0.00"/>
<path d="M470.00,574.30 C470.67,573.75 472.57,571.75 474.00,571.00 C475.43,570.25 476.93,569.93 478.60,569.80 C480.27,569.67 482.10,570.33 484.00,570.20 C485.90,570.07 488.67,568.32 490.00,569.00 C491.33,569.68 491.67,573.42 492.00,574.30 Z" fill="#51b1f9" fill-opacity="0.35" stroke="none" stroke-width="0.00"/>
<path d="M527.00,574.30 C528.33,573.08 532.67,569.55 535.00,567.00 C537.33,564.45 539.08,561.58 541.00,559.00 C542.92,556.42 544.60,553.23 546.50,551.50 C548.40,549.77 550.65,548.40 552.40,548.60 C554.15,548.80 555.48,551.13 557.00,552.70 C558.52,554.27 560.00,556.12 561.50,558.00 C563.00,559.88 564.42,562.08 566.00,564.00 C567.58,565.92 569.33,567.78 571.00,569.50 C572.67,571.22 575.17,573.50 576.00,574.30 Z" fill="#51b1f9" fill-opacity="0.50" stroke="none" stroke-width="0.00"/>
<path d="M492.00,574.30 C492.17,571.92 492.62,564.37 493.00,560.00 C493.38,555.63 493.70,559.97 494.30,548.10 C494.90,536.23 495.82,508.58 496.60,488.80 C497.38,469.02 498.20,446.03 499.00,429.40 C499.80,412.77 500.77,396.90 501.40,389.00 C502.03,381.10 502.33,383.58 502.80,382.00 C503.27,380.42 503.73,379.50 504.20,379.50 C504.67,379.50 505.08,380.02 505.60,382.00 C506.12,383.98 506.42,383.50 507.30,391.40 C508.18,399.30 509.52,415.15 510.90,429.40 C512.28,443.65 513.83,463.47 515.60,476.90 C517.37,490.33 519.60,501.48 521.50,510.00 C523.40,518.52 525.08,522.50 527.00,528.00 C528.92,533.50 531.08,538.17 533.00,543.00 C534.92,547.83 537.00,553.17 538.50,557.00 C540.00,560.83 540.92,563.12 542.00,566.00 C543.08,568.88 544.50,572.92 545.00,574.30 Z" fill="#51b1f9" fill-opacity="0.50" stroke="#fff" stroke-width="0.80"/>
<path d="M390.30,575.50 C390.47,574.92 391.10,577.92 391.30,572.00 C391.50,566.08 391.47,568.67 391.50,540.00 C391.53,511.33 391.50,432.50 391.50,400.00 C391.50,367.50 391.37,354.75 391.50,345.00 C391.63,335.25 392.02,342.37 392.30,341.50 C392.58,340.63 392.88,339.80 393.20,339.80 C393.52,339.80 393.85,340.72 394.20,341.50 C394.55,342.28 394.92,343.25 395.30,344.50 C395.68,345.75 396.12,347.25 396.50,349.00 C396.88,350.75 397.27,352.83 397.60,355.00 C397.93,357.17 398.22,360.50 398.50,362.00 C398.78,363.50 399.00,360.10 399.30,364.00 C399.60,367.90 399.95,378.07 400.30,385.40 C400.65,392.73 401.03,400.43 401.40,408.00 C401.77,415.57 402.02,422.97 402.50,430.80 C402.98,438.63 403.73,448.47 404.30,455.00 C404.87,461.53 405.20,463.12 405.90,470.00 C406.60,476.88 407.48,487.53 408.50,496.30 C409.52,505.07 410.83,514.72 412.00,522.60 C413.17,530.48 414.03,537.48 415.50,543.60 C416.97,549.72 418.75,554.92 420.80,559.30 C422.85,563.68 425.17,567.20 427.80,569.90 C430.43,572.60 434.40,574.48 436.60,575.50 C438.80,576.52 439.60,576.25 441.00,576.00 C442.40,575.75 443.70,574.58 445.00,574.00 C446.30,573.42 447.47,572.50 448.80,572.50 C450.13,572.50 451.53,573.57 453.00,574.00 C454.47,574.43 455.93,574.77 457.60,575.10 C459.27,575.43 461.25,575.85 463.00,576.00 C464.75,576.15 466.67,576.43 468.10,576.00 C469.53,575.57 470.45,574.32 471.60,573.40 C472.75,572.48 473.83,571.15 475.00,570.50 C476.17,569.85 477.43,569.62 478.60,569.50 C479.77,569.38 480.58,569.88 482.00,569.80 C483.42,569.72 485.65,569.45 487.10,569.00 C488.55,568.55 489.72,568.60 490.70,567.10 C491.68,565.60 492.40,563.17 493.00,560.00 C493.60,556.83 493.70,559.97 494.30,548.10 C494.90,536.23 495.82,508.58 496.60,488.80 C497.38,469.02 498.20,446.03 499.00,429.40 C499.80,412.77 500.77,396.90 501.40,389.00 C502.03,381.10 502.33,383.58 502.80,382.00 C503.27,380.42 503.73,379.50 504.20,379.50 C504.67,379.50 505.08,380.02 505.60,382.00 C506.12,383.98 506.42,383.50 507.30,391.40 C508.18,399.30 509.52,415.15 510.90,429.40 C512.28,443.65 513.62,463.05 515.60,476.90 C517.58,490.75 520.73,503.98 522.80,512.50 C524.87,521.02 526.03,523.25 528.00,528.00 C529.97,532.75 532.68,537.67 534.60,541.00 C536.52,544.33 537.92,546.10 539.50,548.00 C541.08,549.90 542.60,552.15 544.10,552.40 C545.60,552.65 547.12,550.22 548.50,549.50 C549.88,548.78 550.98,547.60 552.40,548.10 C553.82,548.60 555.42,550.92 557.00,552.50 C558.58,554.08 560.23,555.93 561.90,557.60 C563.57,559.27 565.22,561.10 567.00,562.50 C568.78,563.90 570.43,565.03 572.60,566.00 C574.77,566.97 577.93,567.77 580.00,568.30 C582.07,568.83 583.17,569.05 585.00,569.20 C586.83,569.35 589.33,568.98 591.00,569.20 C592.67,569.42 593.42,569.95 595.00,570.50 C596.58,571.05 597.67,571.87 600.50,572.50 C603.33,573.13 607.73,573.85 612.00,574.30 C616.27,574.75 623.75,575.05 626.10,575.20" fill="none" stroke="#4f92fb" stroke-width="1.3" stroke-linejoin="round"/>
<path d="M391.90,565.50 L411.20,540.10 L427.80,552.30 L446.20,569.90 L462.90,569.50 L482.00,574.30 L500.20,574.30 L518.00,554.80 L535.80,574.30 L553.60,574.30 L572.10,518.50 L589.70,553.60 L608.10,455.90 L626.10,552.20" fill="none" stroke="#111" stroke-width="1.7" stroke-dasharray="1.7,1.5"/>
<rect x="391.1" y="577.3" width="241.8" height="24.6" fill="#cfd0d0"/>
<rect x="580.5" y="577.3" width="1.2" height="24.6" fill="#555" opacity="0.25"/>
<g filter="url(#bl)">
<rect x="393.3" y="582.8" width="15.0" height="4.0" rx="1.5" fill="#000" fill-opacity="0.90"/>
<rect x="409.4" y="583.2" width="17.0" height="5.2" rx="1.5" fill="#000" fill-opacity="0.95"/>
<rect x="427.5" y="583.8" width="15.0" height="3.6" rx="1.5" fill="#000" fill-opacity="1.00"/>
<rect x="445.6" y="583.9" width="13.0" height="3.0" rx="1.5" fill="#000" fill-opacity="0.85"/>
<rect x="463.2" y="584.9" width="12.0" height="2.3" rx="1.5" fill="#000" fill-opacity="0.55"/>
<rect x="480.3" y="584.9" width="12.0" height="2.3" rx="1.5" fill="#000" fill-opacity="0.50"/>
<rect x="497.4" y="585.1" width="12.0" height="2.1" rx="1.5" fill="#000" fill-opacity="0.42"/>
<rect x="514.5" y="585.9" width="12.0" height="2.2" rx="1.5" fill="#000" fill-opacity="0.60"/>
<rect x="531.6" y="586.1" width="12.0" height="1.8" rx="1.5" fill="#000" fill-opacity="0.18"/>
<rect x="548.7" y="586.1" width="12.0" height="1.8" rx="1.5" fill="#000" fill-opacity="0.12"/>
<rect x="565.8" y="585.1" width="12.0" height="1.8" rx="1.5" fill="#000" fill-opacity="0.15"/>
<rect x="514.5" y="594.6" width="12.0" height="2.0" rx="1.5" fill="#000" fill-opacity="0.30"/>
<rect x="548.7" y="594.8" width="12.0" height="2.0" rx="1.5" fill="#000" fill-opacity="0.22"/>
<rect x="565.8" y="594.4" width="12.0" height="2.4" rx="1.5" fill="#000" fill-opacity="0.85"/>
<rect x="582.9" y="594.7" width="12.0" height="1.8" rx="1.5" fill="#000" fill-opacity="0.15"/>
<rect x="600.0" y="593.2" width="12.0" height="2.8" rx="1.5" fill="#000" fill-opacity="1.00"/>
<rect x="617.1" y="592.2" width="12.0" height="1.6" rx="1.5" fill="#000" fill-opacity="0.18"/>
</g>
<text x="383.6" y="585.4" font-size="12.5" text-anchor="end" fill="#000">kDa</text>
<text x="383.2" y="595.5" font-size="12" text-anchor="end" fill="#000">70</text>
<g stroke="#999" stroke-width="1" stroke-linecap="round"><path d="M389.8,582.4 v4.3 M387.8,583.7 l4,1.6 M391.8,583.7 l-4,1.6"/></g>
<path d="M385.0,591.0 H389.6 M389.4,591.0 V595.4" stroke="#000" stroke-width="1.1"/>
<ellipse cx="388.0" cy="593.8" rx="1.4" ry="1.1" fill="#000"/><ellipse cx="390.8" cy="593.8" rx="1.4" ry="1.1" fill="#000"/>
<text x="634.2" y="598.1" font-size="12.5" fill="#000">Hel2-RM</text>
<line x1="392.5" y1="608.0" x2="626.2" y2="608.0" stroke="#3a3a3a" stroke-width="1"/>
<line x1="393.00" y1="608.0" x2="393.00" y2="612.5" stroke="#3a3a3a" stroke-width="1"/>
<text x="393.80" y="624.7" font-size="11.2" text-anchor="middle" fill="#000">1</text>
<line x1="410.90" y1="608.0" x2="410.90" y2="612.5" stroke="#3a3a3a" stroke-width="1"/>
<text x="411.70" y="624.7" font-size="11.2" text-anchor="middle" fill="#000">2</text>
<line x1="428.80" y1="608.0" x2="428.80" y2="612.5" stroke="#3a3a3a" stroke-width="1"/>
<text x="429.60" y="624.7" font-size="11.2" text-anchor="middle" fill="#000">3</text>
<line x1="446.70" y1="608.0" x2="446.70" y2="612.5" stroke="#3a3a3a" stroke-width="1"/>
<text x="447.50" y="624.7" font-size="11.2" text-anchor="middle" fill="#000">4</text>
<line x1="464.60" y1="608.0" x2="464.60" y2="612.5" stroke="#3a3a3a" stroke-width="1"/>
<text x="465.40" y="624.7" font-size="11.2" text-anchor="middle" fill="#000">5</text>
<line x1="482.50" y1="608.0" x2="482.50" y2="612.5" stroke="#3a3a3a" stroke-width="1"/>
<text x="483.30" y="624.7" font-size="11.2" text-anchor="middle" fill="#000">6</text>
<line x1="500.40" y1="608.0" x2="500.40" y2="612.5" stroke="#3a3a3a" stroke-width="1"/>
<text x="501.20" y="624.7" font-size="11.2" text-anchor="middle" fill="#000">7</text>
<line x1="518.30" y1="608.0" x2="518.30" y2="612.5" stroke="#3a3a3a" stroke-width="1"/>
<text x="519.10" y="624.7" font-size="11.2" text-anchor="middle" fill="#000">8</text>
<line x1="536.20" y1="608.0" x2="536.20" y2="612.5" stroke="#3a3a3a" stroke-width="1"/>
<text x="537.00" y="624.7" font-size="11.2" text-anchor="middle" fill="#000">9</text>
<line x1="554.10" y1="608.0" x2="554.10" y2="612.5" stroke="#3a3a3a" stroke-width="1"/>
<text x="554.90" y="624.7" font-size="11.2" text-anchor="middle" fill="#000">10</text>
<line x1="572.00" y1="608.0" x2="572.00" y2="612.5" stroke="#3a3a3a" stroke-width="1"/>
<text x="572.80" y="624.7" font-size="11.2" text-anchor="middle" fill="#000">11</text>
<line x1="589.90" y1="608.0" x2="589.90" y2="612.5" stroke="#3a3a3a" stroke-width="1"/>
<text x="590.70" y="624.7" font-size="11.2" text-anchor="middle" fill="#000">12</text>
<line x1="607.80" y1="608.0" x2="607.80" y2="612.5" stroke="#3a3a3a" stroke-width="1"/>
<text x="608.60" y="624.7" font-size="11.2" text-anchor="middle" fill="#000">13</text>
<line x1="625.70" y1="608.0" x2="625.70" y2="612.5" stroke="#3a3a3a" stroke-width="1"/>
<text x="626.50" y="624.7" font-size="11.2" text-anchor="middle" fill="#000">14</text>
<text x="404.4" y="358.8" font-size="12.9" fill="#000"><tspan stroke="#000" stroke-width="0.3">Hel2-RM</tspan><tspan font-size="9.9" dy="4.4">g-log/RNase</tspan></text>
<text x="404.4" y="376.8" font-size="11.5" fill="#000">disomes: 19.050/cell</text>
<text x="404.4" y="389.4" font-size="11.5" fill="#000">trisomes: 2500/cell</text>
<text x="0.5" y="651.2" font-size="20" fill="#000">e</text>
<line x1="62.2" y1="663.4" x2="62.2" y2="898.4" stroke="#3a3a3a" stroke-width="1.3"/>
<line x1="62.2" y1="898.4" x2="65.6" y2="898.4" stroke="#3a3a3a" stroke-width="1.2"/>
<text x="58.3" y="902.6" font-size="11.6" text-anchor="end" fill="#000">0</text>
<line x1="62.2" y1="851.4" x2="65.6" y2="851.4" stroke="#3a3a3a" stroke-width="1.2"/>
<text x="58.3" y="855.6" font-size="11.6" text-anchor="end" fill="#000">20</text>
<line x1="62.2" y1="804.4" x2="65.6" y2="804.4" stroke="#3a3a3a" stroke-width="1.2"/>
<text x="58.3" y="808.6" font-size="11.6" text-anchor="end" fill="#000">40</text>
<line x1="62.2" y1="757.5" x2="65.6" y2="757.5" stroke="#3a3a3a" stroke-width="1.2"/>
<text x="58.3" y="761.7" font-size="11.6" text-anchor="end" fill="#000">60</text>
<line x1="62.2" y1="710.5" x2="65.6" y2="710.5" stroke="#3a3a3a" stroke-width="1.2"/>
<text x="58.3" y="714.7" font-size="11.6" text-anchor="end" fill="#000">80</text>
<line x1="62.2" y1="663.5" x2="65.6" y2="663.5" stroke="#3a3a3a" stroke-width="1.2"/>
<text x="58.3" y="667.7" font-size="11.6" text-anchor="end" fill="#000">100</text>
<text transform="translate(24.3,840.9) rotate(-90)" font-size="12.8" fill="#000" xml:space="preserve">Hel2 occupancy  [%]</text>
<line x1="61.7" y1="898.4" x2="637" y2="898.4" stroke="#555" stroke-width="1.8"/>
<line x1="151.9" y1="894.2" x2="151.9" y2="898.4" stroke="#3a3a3a" stroke-width="1.1"/>
<line x1="348.2" y1="894.2" x2="348.2" y2="898.4" stroke="#3a3a3a" stroke-width="1.1"/>
<line x1="544.3" y1="894.2" x2="544.3" y2="898.4" stroke="#3a3a3a" stroke-width="1.1"/>
<rect x="76.2" y="896.2" width="27.4" height="1.6" fill="#111"/>
<text transform="translate(89.9,890.8) scale(0.9,1)" font-size="12" font-weight="bold" text-anchor="middle" fill="#000">0.5</text>
<rect x="118.1" y="896.2" width="27.4" height="1.6" fill="#111"/>
<text transform="translate(131.8,890.8) scale(0.9,1)" font-size="12" font-weight="bold" text-anchor="middle" fill="#000">0.3</text>
<rect x="160.0" y="896.2" width="27.4" height="1.6" fill="#111"/>
<text transform="translate(173.7,890.8) scale(0.9,1)" font-size="12" font-weight="bold" text-anchor="middle" fill="#000">0.1</text>
<text transform="translate(215.6,890.8) scale(0.9,1)" font-size="12" font-weight="bold" text-anchor="middle" fill="#000">0.1</text>
<rect x="272.0" y="886.2" width="27.4" height="11.3" fill="#c9a3d6"/>
<text transform="translate(285.7,878.8) scale(0.9,1)" font-size="12" font-weight="bold" text-anchor="middle" fill="#000">5.2</text>
<rect x="313.9" y="885.7" width="27.4" height="11.8" fill="#8ee77e"/>
<text transform="translate(327.6,878.3) scale(0.9,1)" font-size="12" font-weight="bold" text-anchor="middle" fill="#000">5.4</text>
<text transform="translate(369.5,890.8) scale(0.9,1)" font-size="12" font-weight="bold" text-anchor="middle" fill="#000">0</text>
<rect x="397.7" y="889.0" width="27.4" height="8.5" fill="#8cc7fb"/>
<text transform="translate(411.4,881.6) scale(0.9,1)" font-size="12" font-weight="bold" text-anchor="middle" fill="#000">4.0</text>
<rect x="467.8" y="885.5" width="27.4" height="12.0" fill="#c9a3d6"/>
<text transform="translate(481.5,878.1) scale(0.9,1)" font-size="12" font-weight="bold" text-anchor="middle" fill="#000">5.5</text>
<rect x="509.7" y="855.4" width="27.4" height="42.1" fill="#8ee77e"/>
<text transform="translate(523.4,848.0) scale(0.9,1)" font-size="12" font-weight="bold" text-anchor="middle" fill="#000">18.3</text>
<text transform="translate(565.3,890.8) scale(0.9,1)" font-size="12" font-weight="bold" text-anchor="middle" fill="#000">0</text>
<rect x="593.5" y="772.7" width="27.4" height="124.8" fill="#8cc7fb"/>
<text transform="translate(607.2,765.3) scale(0.9,1)" font-size="12" font-weight="bold" text-anchor="middle" fill="#000">53.5</text>
<text transform="translate(91.4,870.4) rotate(-43)" font-size="12.6" fill="#9b4fc0">wild type<tspan font-size="9.4" dx="2" dy="3.0">log</tspan></text>
<text transform="translate(131.7,871.4) rotate(-43)" font-size="12.6" fill="#3fc22f">wild type<tspan font-size="9.4" dx="2" dy="3.0">coll</tspan></text>
<text transform="translate(175.1,871.9) rotate(-48)" font-size="12.3" fill="#f2aa6c">&#916;<tspan font-style="italic">asc1</tspan></text>
<text transform="translate(214.1,871.9) rotate(-45)" font-size="12.8" fill="#4a8ff5">Hel2-RM</text>
<text transform="translate(287.2,858.5) rotate(-43)" font-size="12.6" fill="#9b4fc0">wild type<tspan font-size="9.4" dx="2" dy="3.0">log</tspan></text>
<text transform="translate(327.5,859.2) rotate(-43)" font-size="12.6" fill="#3fc22f">wild type<tspan font-size="9.4" dx="2" dy="3.0">coll</tspan></text>
<text transform="translate(370.0,874.7) rotate(-48)" font-size="12.3" fill="#f2aa6c">&#916;<tspan font-style="italic">asc1</tspan></text>
<text transform="translate(411.3,862.7) rotate(-45)" font-size="12.8" fill="#4a8ff5">Hel2-RM</text>
<text transform="translate(480.9,831.1) rotate(-43)" font-size="12.6" fill="#9b4fc0">wild type<tspan font-size="9.4" dx="2" dy="3.0">log</tspan></text>
<text transform="translate(522.1,831.1) rotate(-43)" font-size="12.6" fill="#3fc22f">wild type<tspan font-size="9.4" dx="2" dy="3.0">coll</tspan></text>
<text transform="translate(560.3,871.1) rotate(-48)" font-size="12.3" fill="#f2aa6c">&#916;<tspan font-style="italic">asc1</tspan></text>
<text transform="translate(606.2,746.7) rotate(-45)" font-size="12.8" fill="#4a8ff5">Hel2-RM</text>
<path d="M78.6,904.2 V909.2 H221.4 V904.2" fill="none" stroke="#3a3a3a" stroke-width="1.1"/>
<text x="149.2" y="921.6" font-size="13.1" text-anchor="middle" fill="#000">translating monosomes</text>
<path d="M276.0,904.2 V909.2 H418.7 V904.2" fill="none" stroke="#3a3a3a" stroke-width="1.1"/>
<text x="344.2" y="921.6" font-size="13.1" text-anchor="middle" fill="#000">disomes</text>
<path d="M472.3,904.2 V909.2 H615.7 V904.2" fill="none" stroke="#3a3a3a" stroke-width="1.1"/>
<text x="540.0" y="921.6" font-size="13.1" text-anchor="middle" fill="#000">trisomes</text>
</g>
</svg>
</body></html>
